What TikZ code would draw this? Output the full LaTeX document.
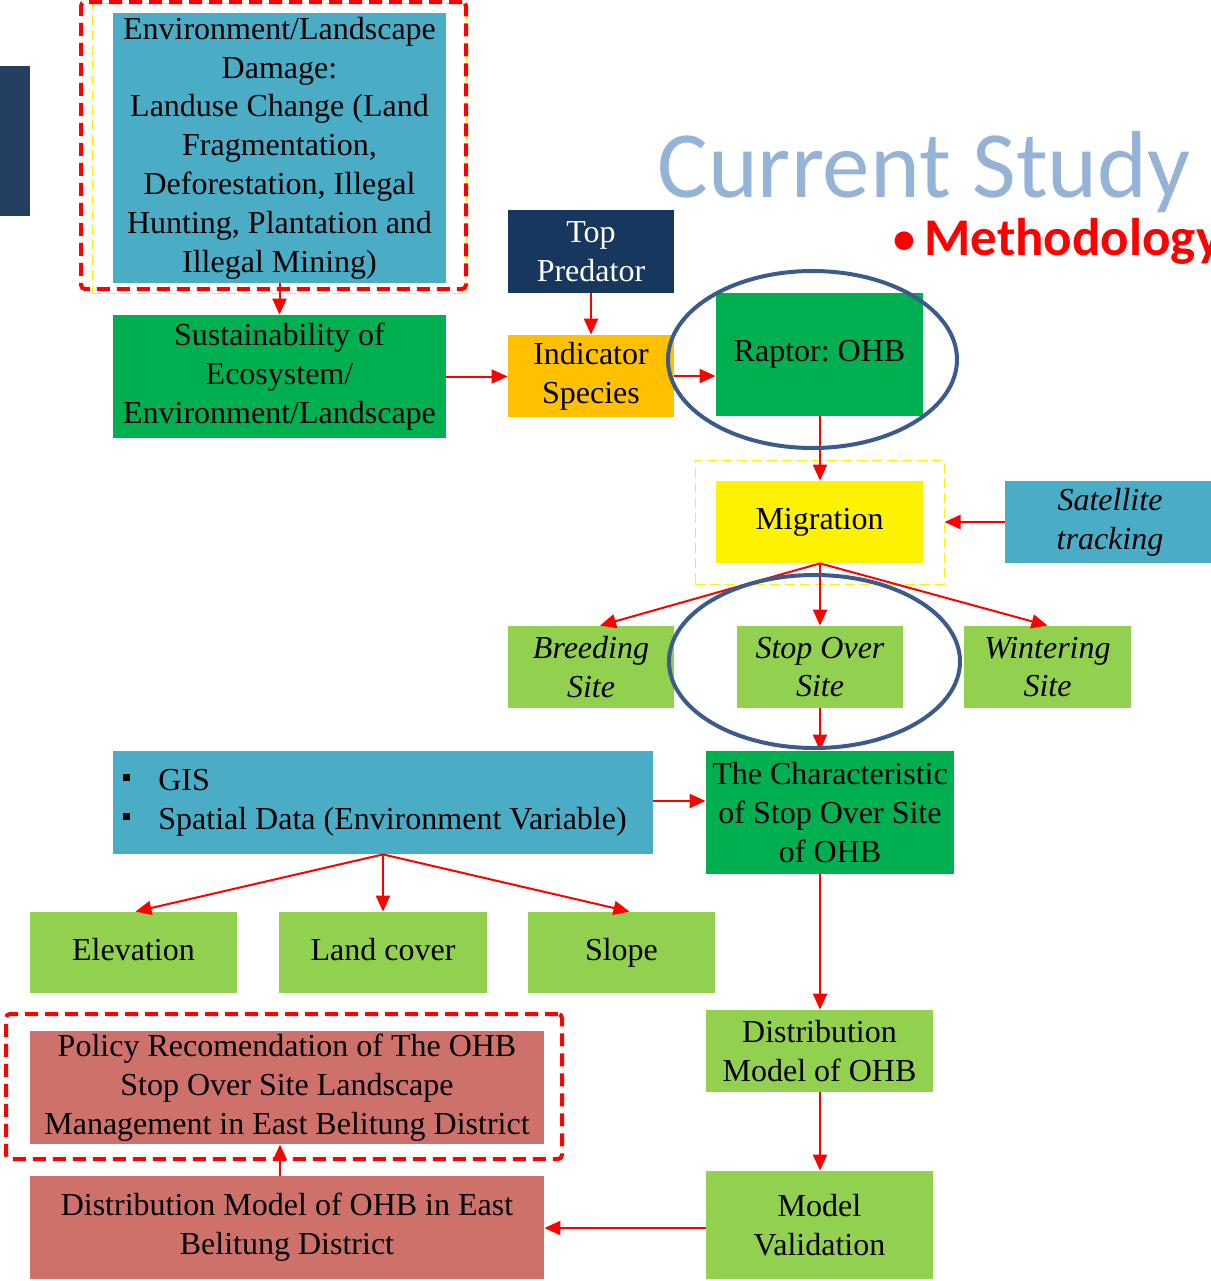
\documentclass[tikz,border=0pt]{standalone}
\usepackage{fontspec}
\setmainfont{Liberation Serif}
\newfontfamily\calibri{Carlito}
\usetikzlibrary{arrows.meta,shapes.geometric}
\definecolor{cblue}{HTML}{4BACC6}
\definecolor{cgreen}{HTML}{00B050}
\definecolor{clgreen}{HTML}{92D050}
\definecolor{corange}{HTML}{FFC000}
\definecolor{cnavy}{HTML}{17375E}
\definecolor{cbar}{HTML}{243F60}
\definecolor{csalmon}{RGB}{205,113,106}
\definecolor{cring}{HTML}{3B5B8C}
\definecolor{ctitle}{HTML}{95B3D7}
\begin{document}
\begin{tikzpicture}[x=0.5pt,y=-0.5pt,
 box/.style={inner sep=1pt, align=center, font=\fontsize{16}{19.4}\selectfont\frenchspacing, text=black},
 ibox/.style={box, font=\fontsize{16}{19.4}\selectfont\frenchspacing\itshape},
 wh/.style 2 args={minimum width=#1*0.5pt, minimum height=#2*0.5pt},
 oneline/.style={text height=11pt, text depth=3.5pt},
 arr/.style={draw=red, line width=1pt, -{Triangle[length=8pt,width=7pt]}},
 redframe/.style={draw=red, line width=2pt, dash pattern=on 6.5pt off 3.5pt, rounded corners=2pt, inner sep=0},
 yelframe/.style={draw=yellow, line width=0.5pt, dash pattern=on 5pt off 2.5pt, inner sep=0},
 ring/.style={draw=cring, line width=2pt, ellipse, inner sep=0}
]
\useasboundingbox (0,0) rectangle (1211,1281);
\clip (0,0) rectangle (1211,1281);
\fill[white] (0,0) rectangle (1211,1281);

% left bar
\fill[cbar] (0,66) rectangle (30,216);

% title
\node[anchor=base west, inner sep=0, text=ctitle, font=\calibri\fontsize{47.5}{50}\selectfont] (title) at (657,197) {Current Study};
\node[anchor=base west, inner sep=0, text=red, font=\calibri\bfseries\fontsize{22}{24}\selectfont] (bul) at (893,253) {•};
\node[anchor=base west, inner sep=0, text=red, font=\calibri\bfseries\fontsize{26.5}{28}\selectfont] (meth) at (924,255) {Methodology};

% boxes
\node[box, fill=cblue, wh={333}{270}] (env) at (279.5,148) {Environment/Landscape\\Damage:\\Landuse Change (Land\\Fragmentation,\\Deforestation, Illegal\\Hunting, Plantation and\\Illegal Mining)};
\node[box, fill=cgreen, wh={333}{123}] (sust) at (279.5,376.5) {Sustainability of\\Ecosystem/\\Environment/Landscape};
\node[box, fill=cnavy, text=white, wh={166}{83}] (top) at (591,251.5) {Top\\Predator};
\node[box, fill=corange, wh={166}{82}] (ind) at (591,376) {Indicator\\Species};
\node[box, fill=cgreen, wh={207}{123}] (rap) at (819.5,354.5) {Raptor: OHB};
\node[box, fill=yellow, wh={207}{82}] (mig) at (819.5,522) {Migration};
\node[ibox, fill=cblue, wh={210}{82}] (sat) at (1110,522) {Satellite\\tracking};
\node[ibox, fill=clgreen, wh={166}{82}] (breed) at (591,667) {Breeding\\Site};
\node[ibox, fill=clgreen, wh={166}{82}] (stop) at (820,667) {Stop Over\\Site};
\node[ibox, fill=clgreen, wh={167}{82}] (wint) at (1047.5,667) {Wintering\\Site};
\node[box, fill=cgreen, wh={248}{123}] (char) at (830,812.5) {The Characteristic\\of Stop Over Site\\of OHB};
\node[box, fill=cblue, wh={540}{103}, align=left] (gis) at (383,802.5)
 {\makebox[17.5pt][l]{\raisebox{4.5pt}{\rule{3.5pt}{3.5pt}}}GIS\\
  \makebox[17.5pt][l]{\raisebox{4.5pt}{\rule{3.5pt}{3.5pt}}}Spatial Data (Environment Variable)\hspace*{8pt}};
\node[box, oneline, fill=clgreen, wh={207}{81}] (elev) at (133.5,952.5) {Elevation};
\node[box, oneline, fill=clgreen, wh={208}{81}] (land) at (383,952.5) {Land cover};
\node[box, oneline, fill=clgreen, wh={187}{81}] (slope) at (621.5,952.5) {Slope};
\node[box, fill=clgreen, wh={227}{82}] (dist) at (819.5,1051) {Distribution\\Model of OHB};
\node[box, fill=clgreen, wh={227}{108}] (valid) at (819.5,1225) {Model\\Validation};
\node[box, fill=csalmon, wh={514}{103}] (deb) at (287,1227.5) {Distribution Model of OHB in East\\Belitung District};
\node[box, fill=csalmon, wh={514}{113}] (pol) at (287,1087.5) {Policy Recomendation of The OHB\\Stop Over Site Landscape\\Management in East Belitung District};

% frames
\node[yelframe, wh={374}{290}] (envy) at (279,148) {};
\node[redframe, wh={385}{287}] (envr) at (273.5,145.5) {};
\node[yelframe, wh={249}{124}] (migf) at (819.5,522) {};
\node[redframe, wh={556}{145}] (polf) at (284,1086.5) {};

% arrows
\draw[arr] (env.south) -- (sust.north);
\draw[arr] (top.south) -- (ind.north);
\draw[arr] (sust.east) -- (sust.east -| ind.west);
\draw[arr] (ind.east) -- (ind.east -| rap.west);
\draw[arr] ([xshift=0.25pt]rap.south) -- ([xshift=0.25pt]mig.north);
\draw[arr] (sat.west) -- (migf.east);
\draw[arr] ([xshift=0.25pt]mig.south) -- ([xshift=4.5pt]breed.north);
\draw[arr] ([xshift=0.25pt]mig.south) -- (stop.north);
\draw[arr] ([xshift=0.25pt]mig.south) -- (wint.north);
\draw[arr] (stop.south) -- (stop.south |- char.north);
\draw[arr] ([yshift=0.75pt]gis.east) -- ([yshift=0.75pt]gis.east -| char.west);
\draw[arr] (gis.south) -- ([xshift=1pt]elev.north);
\draw[arr] (gis.south) -- (land.north);
\draw[arr] (gis.south) -- ([xshift=4pt]slope.north);
\draw[arr] (stop.south |- char.south) -- (stop.south |- dist.north);
\draw[arr] (stop.south |- dist.south) -- (stop.south |- valid.north);
\draw[arr] ([yshift=-1.5pt]valid.west) -- ([yshift=-1.5pt]valid.west -| deb.east);
\draw[arr] ([xshift=-3.5pt]deb.north) -- ([xshift=-3.5pt]pol.south);

% rings
\node[ring, wh={289}{177}] (ring1) at (812.5,359.5) {};
\node[ring, wh={291}{173}] (ring2) at (814.5,661.5) {};
\end{tikzpicture}
\end{document}
